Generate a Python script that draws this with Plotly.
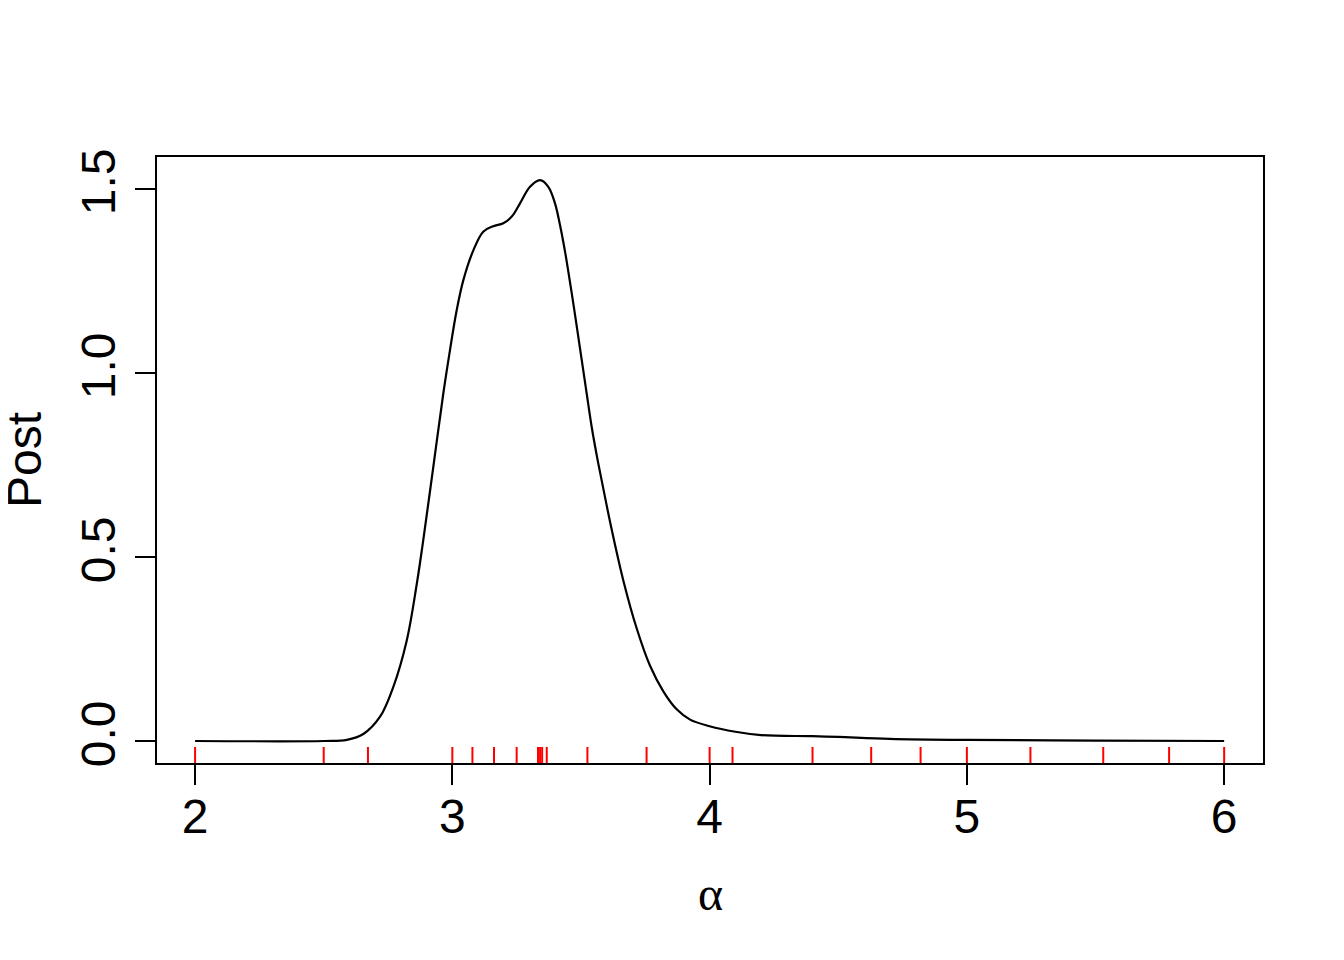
import plotly.graph_objects as go

# Posterior density curve
alpha_x = [2.0, 2.5, 2.59, 2.654, 2.719, 2.771, 2.823, 2.862, 2.887, 2.926, 2.965, 2.991,
           3.017, 3.043, 3.082, 3.12, 3.159, 3.198, 3.231, 3.263, 3.302, 3.341, 3.373,
           3.399, 3.419, 3.438, 3.451, 3.47, 3.486, 3.503, 3.522, 3.542, 3.567, 3.593,
           3.619, 3.665, 3.717, 3.768,
           3.82, 3.872, 3.924, 4.0, 4.1, 4.2, 4.4, 4.5, 4.7, 5.0, 5.5, 6.0]
post_y = [0.0, 0.0, 0.003, 0.019, 0.066, 0.148, 0.274, 0.428, 0.546, 0.745, 0.945, 1.063,
          1.171, 1.253, 1.334, 1.384, 1.399, 1.407, 1.425, 1.461, 1.506, 1.524, 1.506,
          1.461, 1.40, 1.33, 1.275, 1.19, 1.115, 1.035, 0.945, 0.852, 0.755, 0.664,
          0.576, 0.435, 0.305, 0.205,
          0.135, 0.086, 0.058, 0.04, 0.025, 0.016, 0.013, 0.011, 0.006, 0.003, 0.001, 0.0]

# Rug of sample points
rug_x = [2.0, 2.50, 2.672, 3.0, 3.078, 3.162, 3.25, 3.333, 3.341, 3.349, 3.367,
         3.525, 3.755, 4.0, 4.089, 4.40, 4.628, 4.82, 5.0, 5.247, 5.53, 5.786, 6.0]

x_ticks = [2, 3, 4, 5, 6]
y_ticks = [0.0, 0.5, 1.0, 1.5]
y_tick_text = ["0.0", "0.5", "1.0", "1.5"]

fig = go.Figure()
fig.add_trace(go.Scatter(x=alpha_x, y=post_y, mode="lines",
                         line=dict(color="black", width=2.2, shape="spline", smoothing=1.0),
                         hoverinfo="skip", showlegend=False))

for rx in rug_x:
    fig.add_shape(type="line", xref="x", yref="paper", x0=rx, x1=rx, y0=0, y1=0.0264,
                  line=dict(color="red", width=2))

fig.update_layout(
    width=1344, height=960,
    paper_bgcolor="white", plot_bgcolor="white",
    margin=dict(l=149, r=89, t=149, b=205, autoexpand=False),
    font=dict(family="Liberation Sans, Arial, sans-serif", size=48, color="black"),
    showlegend=False,
)
fig.update_xaxes(range=[1.852, 6.151], tickvals=x_ticks, ticktext=[str(v) for v in x_ticks],
                 showgrid=False, zeroline=False, showline=True, linecolor="black", linewidth=2,
                 mirror=True, ticks="outside", ticklen=20, tickwidth=2, tickcolor="black",
                 tickfont=dict(size=48), ticklabelstandoff=-10)
fig.update_yaxes(range=[-0.0598, 1.587], tickvals=y_ticks, ticktext=y_tick_text,
                 showgrid=False, zeroline=False, showline=True, linecolor="black", linewidth=2,
                 mirror=True, ticks="outside", ticklen=20, tickwidth=2, tickcolor="black",
                 tickfont=dict(size=48), tickangle=-90, ticklabelstandoff=1)

fig.add_annotation(text="Post", xref="paper", yref="paper", x=0, y=0.5,
                   xanchor="center", yanchor="middle", xshift=-133, textangle=-90,
                   showarrow=False, font=dict(size=48, family="Liberation Sans, Arial, sans-serif"))
fig.add_annotation(text="α", xref="paper", yref="paper", x=0.5, y=0,
                   xanchor="center", yanchor="middle", yshift=-130,
                   showarrow=False, font=dict(size=48, family="Liberation Serif, Times New Roman, serif"))

fig.write_html("out.html")
